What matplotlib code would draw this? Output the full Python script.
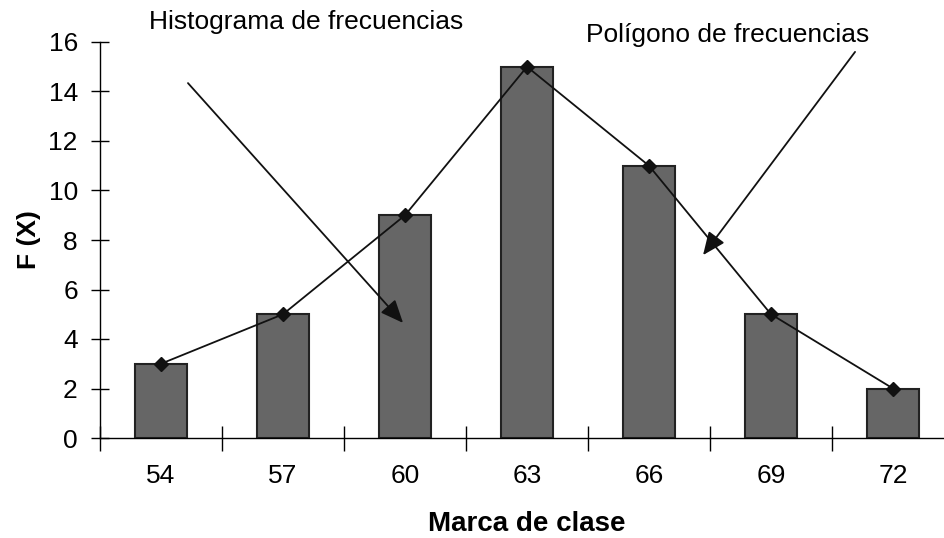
import matplotlib.pyplot as plt

plt.rcParams['font.family'] = ['Liberation Sans', 'DejaVu Sans']

clases = ["54", "57", "60", "63", "66", "69", "72"]
frecuencias = [3, 5, 9, 15, 11, 5, 2]

fig = plt.figure(figsize=(9.45, 5.38), dpi=100)
ax = fig.add_axes([100 / 945, 100 / 538, 854 / 945, 396 / 538])

x = list(range(len(clases)))
ax.bar(x, frecuencias, width=0.42, color="#666666", edgecolor="#222222",
       linewidth=1.5, zorder=2)
ax.plot(x, frecuencias, color="#111111", linewidth=1.3, marker="D",
        markersize=7, markerfacecolor="#111111", zorder=3, clip_on=False)

ax.set_xlim(-0.5, len(clases) - 0.5)
ax.set_ylim(0, 16)
ax.set_yticks(range(0, 17, 2))
ax.set_xticks([i + 0.5 for i in range(-1, len(clases))], minor=False)
ax.set_xticklabels([])
ax.set_xticks(x, minor=True)
ax.set_xticklabels(clases, minor=True)
ax.tick_params(axis="x", which="major", direction="inout", length=18, width=1)
ax.tick_params(axis="x", which="minor", length=0, pad=19, labelsize=19)
ax.tick_params(axis="y", direction="inout", length=13, width=1, labelsize=19, pad=9.5)

for s in ["top", "right"]:
    ax.spines[s].set_visible(False)
ax.spines["left"].set_linewidth(1)
ax.spines["bottom"].set_linewidth(1)

ax.set_xlabel("Marca de clase", fontsize=20, fontweight="bold", labelpad=16)
ax.set_ylabel("F (X)", fontsize=19, fontweight="bold", labelpad=5)

arrow = dict(arrowstyle="-|>,head_length=1.4,head_width=0.6", color="#111111",
             linewidth=1.3, shrinkA=0, shrinkB=0)
ax.annotate("", xy=(1.984, 4.65), xytext=(0.221, 14.34), arrowprops=arrow,
            annotation_clip=False)
ax.annotate("", xy=(4.443, 7.39), xytext=(5.689, 15.6), arrowprops=arrow,
            annotation_clip=False)
ax.text(1.189, 16.8, "Histograma de frecuencias", fontsize=19, ha="center",
        va="center")
ax.text(4.648, 16.28, "Polígono de frecuencias", fontsize=19, ha="center",
        va="center")

fig.savefig("out.png", dpi=100)
